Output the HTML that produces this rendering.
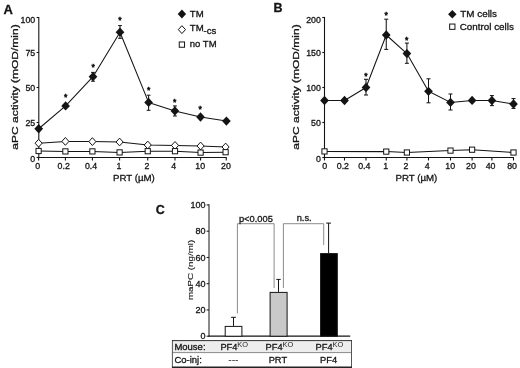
<!DOCTYPE html>
<html lang="en">
<head>
<meta charset="utf-8">
<title>Figure</title>
<style>
html,body{margin:0;padding:0;background:#fff;}
body{width:520px;height:368px;overflow:hidden;}
svg{display:block;font-family:'Liberation Sans', Arial, Helvetica, sans-serif;}
</style>
</head>
<body>
<svg width="520" height="368" viewBox="0 0 520 368">
<rect x="0" y="0" width="520" height="368" fill="#ffffff"/>
<text x="3.40" y="13.60" font-size="13" text-anchor="start" font-weight="bold" fill="#141414" stroke="#141414" stroke-width="0.3" >A</text>
<line x1="38.80" y1="16.90" x2="38.80" y2="158.00" stroke="#141414" stroke-width="1.1" />
<line x1="38.30" y1="157.50" x2="226.75" y2="157.50" stroke="#141414" stroke-width="1.1" />
<line x1="38.60" y1="157.50" x2="38.60" y2="160.50" stroke="#141414" stroke-width="1.1" />
<text x="37.60" y="168.50" font-size="8.8" text-anchor="middle" font-weight="normal" fill="#141414" stroke="#141414" stroke-width="0.3" >0</text>
<line x1="65.40" y1="157.50" x2="65.40" y2="160.50" stroke="#141414" stroke-width="1.1" />
<text x="63.70" y="168.50" font-size="8.8" text-anchor="middle" font-weight="normal" fill="#141414" stroke="#141414" stroke-width="0.3" >0.2</text>
<line x1="92.40" y1="157.50" x2="92.40" y2="160.50" stroke="#141414" stroke-width="1.1" />
<text x="91.10" y="168.50" font-size="8.8" text-anchor="middle" font-weight="normal" fill="#141414" stroke="#141414" stroke-width="0.3" >0.4</text>
<line x1="119.60" y1="157.50" x2="119.60" y2="160.50" stroke="#141414" stroke-width="1.1" />
<text x="118.90" y="168.50" font-size="8.8" text-anchor="middle" font-weight="normal" fill="#141414" stroke="#141414" stroke-width="0.3" >1</text>
<line x1="147.75" y1="157.50" x2="147.75" y2="160.50" stroke="#141414" stroke-width="1.1" />
<text x="146.90" y="168.50" font-size="8.8" text-anchor="middle" font-weight="normal" fill="#141414" stroke="#141414" stroke-width="0.3" >2</text>
<line x1="175.00" y1="157.50" x2="175.00" y2="160.50" stroke="#141414" stroke-width="1.1" />
<text x="173.60" y="168.50" font-size="8.8" text-anchor="middle" font-weight="normal" fill="#141414" stroke="#141414" stroke-width="0.3" >4</text>
<line x1="200.60" y1="157.50" x2="200.60" y2="160.50" stroke="#141414" stroke-width="1.1" />
<text x="200.20" y="168.50" font-size="8.8" text-anchor="middle" font-weight="normal" fill="#141414" stroke="#141414" stroke-width="0.3" >10</text>
<line x1="226.25" y1="157.50" x2="226.25" y2="160.50" stroke="#141414" stroke-width="1.1" />
<text x="226.00" y="168.50" font-size="8.8" text-anchor="middle" font-weight="normal" fill="#141414" stroke="#141414" stroke-width="0.3" >20</text>
<line x1="36.60" y1="157.50" x2="38.80" y2="157.50" stroke="#141414" stroke-width="1.1" />
<text x="35.20" y="161.60" font-size="8.8" text-anchor="end" font-weight="normal" fill="#141414" stroke="#141414" stroke-width="0.3" >0</text>
<line x1="36.60" y1="122.50" x2="38.80" y2="122.50" stroke="#141414" stroke-width="1.1" />
<text x="35.20" y="125.80" font-size="8.8" text-anchor="end" font-weight="normal" fill="#141414" stroke="#141414" stroke-width="0.3" >25</text>
<line x1="36.60" y1="87.50" x2="38.80" y2="87.50" stroke="#141414" stroke-width="1.1" />
<text x="35.20" y="90.80" font-size="8.8" text-anchor="end" font-weight="normal" fill="#141414" stroke="#141414" stroke-width="0.3" >50</text>
<line x1="36.60" y1="52.50" x2="38.80" y2="52.50" stroke="#141414" stroke-width="1.1" />
<text x="35.20" y="55.80" font-size="8.8" text-anchor="end" font-weight="normal" fill="#141414" stroke="#141414" stroke-width="0.3" >75</text>
<line x1="36.60" y1="17.50" x2="38.80" y2="17.50" stroke="#141414" stroke-width="1.1" />
<text x="35.20" y="22.60" font-size="8.8" text-anchor="end" font-weight="normal" fill="#141414" stroke="#141414" stroke-width="0.3" >100</text>
<text x="113.00" y="181.00" font-size="9.7" text-anchor="start" font-weight="normal" fill="#141414" stroke="#141414" stroke-width="0.3" >PRT (µM)</text>
<text transform="translate(18.40,87.00) rotate(-90) scale(1.305,1)" font-size="9.2" text-anchor="middle" fill="#141414" stroke="#141414" stroke-width="0.3">aPC activity (mOD/min)</text>
<polyline points="38.70,128.75 65.60,105.90 93.00,76.70 120.00,32.20 148.60,102.40 174.90,110.90 200.50,117.00 226.40,121.10" fill="none" stroke="#141414" stroke-width="1.05" stroke-linejoin="round"/>
<polyline points="38.60,143.20 65.40,141.40 92.40,141.60 119.60,142.00 147.75,145.00 175.00,145.40 200.60,146.00 225.60,147.00" fill="none" stroke="#141414" stroke-width="1.05" stroke-linejoin="round"/>
<polyline points="38.60,151.00 65.40,151.40 92.40,151.40 119.60,152.40 147.75,151.20 175.00,151.20 200.60,152.60 225.60,152.20" fill="none" stroke="#141414" stroke-width="1.05" stroke-linejoin="round"/>
<line x1="93.00" y1="72.40" x2="93.00" y2="81.20" stroke="#141414" stroke-width="1.05" />
<line x1="91.10" y1="72.40" x2="94.90" y2="72.40" stroke="#141414" stroke-width="1.05" />
<line x1="91.10" y1="81.20" x2="94.90" y2="81.20" stroke="#141414" stroke-width="1.05" />
<line x1="120.00" y1="25.60" x2="120.00" y2="38.30" stroke="#141414" stroke-width="1.05" />
<line x1="118.10" y1="25.60" x2="121.90" y2="25.60" stroke="#141414" stroke-width="1.05" />
<line x1="118.10" y1="38.30" x2="121.90" y2="38.30" stroke="#141414" stroke-width="1.05" />
<line x1="148.60" y1="95.20" x2="148.60" y2="110.30" stroke="#141414" stroke-width="1.05" />
<line x1="146.70" y1="95.20" x2="150.50" y2="95.20" stroke="#141414" stroke-width="1.05" />
<line x1="146.70" y1="110.30" x2="150.50" y2="110.30" stroke="#141414" stroke-width="1.05" />
<line x1="174.90" y1="105.90" x2="174.90" y2="116.00" stroke="#141414" stroke-width="1.05" />
<line x1="173.00" y1="105.90" x2="176.80" y2="105.90" stroke="#141414" stroke-width="1.05" />
<line x1="173.00" y1="116.00" x2="176.80" y2="116.00" stroke="#141414" stroke-width="1.05" />
<polygon points="35.05,143.20 38.60,139.30 42.15,143.20 38.60,147.09" fill="#fff" stroke="#141414" stroke-width="1.0"/>
<polygon points="61.86,141.40 65.40,137.50 68.95,141.40 65.40,145.30" fill="#fff" stroke="#141414" stroke-width="1.0"/>
<polygon points="88.86,141.60 92.40,137.70 95.95,141.60 92.40,145.50" fill="#fff" stroke="#141414" stroke-width="1.0"/>
<polygon points="116.05,142.00 119.60,138.10 123.14,142.00 119.60,145.90" fill="#fff" stroke="#141414" stroke-width="1.0"/>
<polygon points="144.21,145.00 147.75,141.10 151.29,145.00 147.75,148.90" fill="#fff" stroke="#141414" stroke-width="1.0"/>
<polygon points="171.46,145.40 175.00,141.50 178.54,145.40 175.00,149.30" fill="#fff" stroke="#141414" stroke-width="1.0"/>
<polygon points="197.06,146.00 200.60,142.10 204.14,146.00 200.60,149.90" fill="#fff" stroke="#141414" stroke-width="1.0"/>
<polygon points="222.06,147.00 225.60,143.10 229.14,147.00 225.60,150.90" fill="#fff" stroke="#141414" stroke-width="1.0"/>
<rect x="36.00" y="148.40" width="5.2" height="5.2" fill="#fff" stroke="#141414" stroke-width="1.0"/>
<rect x="62.80" y="148.80" width="5.2" height="5.2" fill="#fff" stroke="#141414" stroke-width="1.0"/>
<rect x="89.80" y="148.80" width="5.2" height="5.2" fill="#fff" stroke="#141414" stroke-width="1.0"/>
<rect x="117.00" y="149.80" width="5.2" height="5.2" fill="#fff" stroke="#141414" stroke-width="1.0"/>
<rect x="145.15" y="148.60" width="5.2" height="5.2" fill="#fff" stroke="#141414" stroke-width="1.0"/>
<rect x="172.40" y="148.60" width="5.2" height="5.2" fill="#fff" stroke="#141414" stroke-width="1.0"/>
<rect x="198.00" y="150.00" width="5.2" height="5.2" fill="#fff" stroke="#141414" stroke-width="1.0"/>
<rect x="223.00" y="149.60" width="5.2" height="5.2" fill="#fff" stroke="#141414" stroke-width="1.0"/>
<polygon points="34.35,128.75 38.70,124.10 43.05,128.75 38.70,133.40" fill="#141414" stroke="#141414" stroke-width="0"/>
<polygon points="61.25,105.90 65.60,101.25 69.95,105.90 65.60,110.55" fill="#141414" stroke="#141414" stroke-width="0"/>
<polygon points="88.65,76.70 93.00,72.05 97.35,76.70 93.00,81.35" fill="#141414" stroke="#141414" stroke-width="0"/>
<polygon points="115.65,32.20 120.00,27.55 124.35,32.20 120.00,36.85" fill="#141414" stroke="#141414" stroke-width="0"/>
<polygon points="144.25,102.40 148.60,97.75 152.95,102.40 148.60,107.05" fill="#141414" stroke="#141414" stroke-width="0"/>
<polygon points="170.55,110.90 174.90,106.25 179.25,110.90 174.90,115.55" fill="#141414" stroke="#141414" stroke-width="0"/>
<polygon points="196.15,117.00 200.50,112.35 204.85,117.00 200.50,121.65" fill="#141414" stroke="#141414" stroke-width="0"/>
<polygon points="222.05,121.10 226.40,116.45 230.75,121.10 226.40,125.75" fill="#141414" stroke="#141414" stroke-width="0"/>
<text x="65.60" y="100.39" font-size="8.6" text-anchor="middle" fill="#141414" stroke="#141414" stroke-width="0.55">*</text>
<text x="93.10" y="69.79" font-size="8.6" text-anchor="middle" fill="#141414" stroke="#141414" stroke-width="0.55">*</text>
<text x="120.00" y="23.09" font-size="8.6" text-anchor="middle" fill="#141414" stroke="#141414" stroke-width="0.55">*</text>
<text x="148.80" y="93.49" font-size="8.6" text-anchor="middle" fill="#141414" stroke="#141414" stroke-width="0.55">*</text>
<text x="174.80" y="105.19" font-size="8.6" text-anchor="middle" fill="#141414" stroke="#141414" stroke-width="0.55">*</text>
<text x="200.30" y="112.29" font-size="8.6" text-anchor="middle" fill="#141414" stroke="#141414" stroke-width="0.55">*</text>
<polygon points="177.70,14.00 181.90,9.45 186.10,14.00 181.90,18.55" fill="#141414" stroke="#141414" stroke-width="0"/>
<text x="189.80" y="17.10" font-size="9.6" text-anchor="start" font-weight="normal" fill="#141414" stroke="#141414" stroke-width="0.3" >TM</text>
<polygon points="178.31,29.60 181.90,25.66 185.50,29.60 181.90,33.55" fill="#fff" stroke="#141414" stroke-width="1.0"/>
<text x="189.80" y="31.30" font-size="9.6" text-anchor="start" font-weight="normal" fill="#141414" stroke="#141414" stroke-width="0.3" >TM</text>
<text x="203.50" y="34.30" font-size="9.6" text-anchor="start" font-weight="normal" fill="#141414" stroke="#141414" stroke-width="0.3" >-cs</text>
<rect x="179.25" y="41.95" width="5.3" height="5.3" fill="#fff" stroke="#141414" stroke-width="1.0"/>
<text x="189.80" y="47.20" font-size="9.5" text-anchor="start" font-weight="normal" fill="#141414" stroke="#141414" stroke-width="0.3" >no TM</text>
<text x="273.60" y="12.40" font-size="12.5" text-anchor="start" font-weight="bold" fill="#141414" stroke="#141414" stroke-width="0.3" >B</text>
<line x1="324.50" y1="16.90" x2="324.50" y2="158.00" stroke="#141414" stroke-width="1.1" />
<line x1="324.00" y1="157.50" x2="514.00" y2="157.50" stroke="#141414" stroke-width="1.1" />
<line x1="324.50" y1="157.50" x2="324.50" y2="160.50" stroke="#141414" stroke-width="1.1" />
<text x="324.70" y="169.40" font-size="8.8" text-anchor="middle" font-weight="normal" fill="#141414" stroke="#141414" stroke-width="0.3" >0</text>
<line x1="344.50" y1="157.50" x2="344.50" y2="160.50" stroke="#141414" stroke-width="1.1" />
<text x="342.90" y="169.40" font-size="8.8" text-anchor="middle" font-weight="normal" fill="#141414" stroke="#141414" stroke-width="0.3" >0.2</text>
<line x1="366.00" y1="157.50" x2="366.00" y2="160.50" stroke="#141414" stroke-width="1.1" />
<text x="364.30" y="169.40" font-size="8.8" text-anchor="middle" font-weight="normal" fill="#141414" stroke="#141414" stroke-width="0.3" >0.4</text>
<line x1="386.25" y1="157.50" x2="386.25" y2="160.50" stroke="#141414" stroke-width="1.1" />
<text x="385.70" y="169.40" font-size="8.8" text-anchor="middle" font-weight="normal" fill="#141414" stroke="#141414" stroke-width="0.3" >1</text>
<line x1="406.90" y1="157.50" x2="406.90" y2="160.50" stroke="#141414" stroke-width="1.1" />
<text x="406.00" y="169.40" font-size="8.8" text-anchor="middle" font-weight="normal" fill="#141414" stroke="#141414" stroke-width="0.3" >2</text>
<line x1="428.50" y1="157.50" x2="428.50" y2="160.50" stroke="#141414" stroke-width="1.1" />
<text x="427.30" y="169.40" font-size="8.8" text-anchor="middle" font-weight="normal" fill="#141414" stroke="#141414" stroke-width="0.3" >4</text>
<line x1="450.50" y1="157.50" x2="450.50" y2="160.50" stroke="#141414" stroke-width="1.1" />
<text x="450.20" y="169.40" font-size="8.8" text-anchor="middle" font-weight="normal" fill="#141414" stroke="#141414" stroke-width="0.3" >10</text>
<line x1="472.10" y1="157.50" x2="472.10" y2="160.50" stroke="#141414" stroke-width="1.1" />
<text x="471.00" y="169.40" font-size="8.8" text-anchor="middle" font-weight="normal" fill="#141414" stroke="#141414" stroke-width="0.3" >20</text>
<line x1="491.90" y1="157.50" x2="491.90" y2="160.50" stroke="#141414" stroke-width="1.1" />
<text x="490.60" y="169.40" font-size="8.8" text-anchor="middle" font-weight="normal" fill="#141414" stroke="#141414" stroke-width="0.3" >40</text>
<line x1="513.50" y1="157.50" x2="513.50" y2="160.50" stroke="#141414" stroke-width="1.1" />
<text x="512.10" y="169.40" font-size="8.8" text-anchor="middle" font-weight="normal" fill="#141414" stroke="#141414" stroke-width="0.3" >80</text>
<line x1="322.30" y1="157.50" x2="324.50" y2="157.50" stroke="#141414" stroke-width="1.1" />
<text x="320.90" y="161.60" font-size="8.8" text-anchor="end" font-weight="normal" fill="#141414" stroke="#141414" stroke-width="0.3" >0</text>
<line x1="322.30" y1="122.50" x2="324.50" y2="122.50" stroke="#141414" stroke-width="1.1" />
<text x="320.90" y="125.80" font-size="8.8" text-anchor="end" font-weight="normal" fill="#141414" stroke="#141414" stroke-width="0.3" >50</text>
<line x1="322.30" y1="87.50" x2="324.50" y2="87.50" stroke="#141414" stroke-width="1.1" />
<text x="320.90" y="90.80" font-size="8.8" text-anchor="end" font-weight="normal" fill="#141414" stroke="#141414" stroke-width="0.3" >100</text>
<line x1="322.30" y1="52.50" x2="324.50" y2="52.50" stroke="#141414" stroke-width="1.1" />
<text x="320.90" y="55.80" font-size="8.8" text-anchor="end" font-weight="normal" fill="#141414" stroke="#141414" stroke-width="0.3" >150</text>
<line x1="322.30" y1="17.50" x2="324.50" y2="17.50" stroke="#141414" stroke-width="1.1" />
<text x="320.90" y="22.60" font-size="8.8" text-anchor="end" font-weight="normal" fill="#141414" stroke="#141414" stroke-width="0.3" >200</text>
<text x="395.50" y="181.20" font-size="9.7" text-anchor="start" font-weight="normal" fill="#141414" stroke="#141414" stroke-width="0.3" >PRT (µM)</text>
<text transform="translate(298.90,87.00) rotate(-90) scale(1.305,1)" font-size="9.2" text-anchor="middle" fill="#141414" stroke="#141414" stroke-width="0.3">aPC activity (mOD/min)</text>
<polyline points="324.50,100.50 344.50,100.50 366.00,87.50 386.25,35.00 406.90,53.60 428.50,91.30 450.50,102.40 472.10,100.40 491.90,100.60 513.50,104.00" fill="none" stroke="#141414" stroke-width="1.05" stroke-linejoin="round"/>
<polyline points="324.50,151.40 386.25,151.60 406.90,152.50 450.50,150.60 472.10,149.70 513.50,152.50" fill="none" stroke="#141414" stroke-width="1.05" stroke-linejoin="round"/>
<line x1="366.00" y1="79.30" x2="366.00" y2="95.00" stroke="#141414" stroke-width="1.05" />
<line x1="364.00" y1="79.30" x2="368.00" y2="79.30" stroke="#141414" stroke-width="1.05" />
<line x1="364.00" y1="95.00" x2="368.00" y2="95.00" stroke="#141414" stroke-width="1.05" />
<line x1="386.25" y1="19.20" x2="386.25" y2="49.40" stroke="#141414" stroke-width="1.05" />
<line x1="384.25" y1="19.20" x2="388.25" y2="19.20" stroke="#141414" stroke-width="1.05" />
<line x1="384.25" y1="49.40" x2="388.25" y2="49.40" stroke="#141414" stroke-width="1.05" />
<line x1="406.90" y1="43.10" x2="406.90" y2="63.30" stroke="#141414" stroke-width="1.05" />
<line x1="404.90" y1="43.10" x2="408.90" y2="43.10" stroke="#141414" stroke-width="1.05" />
<line x1="404.90" y1="63.30" x2="408.90" y2="63.30" stroke="#141414" stroke-width="1.05" />
<line x1="428.50" y1="78.80" x2="428.50" y2="102.80" stroke="#141414" stroke-width="1.05" />
<line x1="426.50" y1="78.80" x2="430.50" y2="78.80" stroke="#141414" stroke-width="1.05" />
<line x1="426.50" y1="102.80" x2="430.50" y2="102.80" stroke="#141414" stroke-width="1.05" />
<line x1="450.50" y1="94.00" x2="450.50" y2="110.00" stroke="#141414" stroke-width="1.05" />
<line x1="448.50" y1="94.00" x2="452.50" y2="94.00" stroke="#141414" stroke-width="1.05" />
<line x1="448.50" y1="110.00" x2="452.50" y2="110.00" stroke="#141414" stroke-width="1.05" />
<line x1="491.90" y1="95.60" x2="491.90" y2="105.60" stroke="#141414" stroke-width="1.05" />
<line x1="489.90" y1="95.60" x2="493.90" y2="95.60" stroke="#141414" stroke-width="1.05" />
<line x1="489.90" y1="105.60" x2="493.90" y2="105.60" stroke="#141414" stroke-width="1.05" />
<line x1="513.50" y1="98.60" x2="513.50" y2="108.40" stroke="#141414" stroke-width="1.05" />
<line x1="511.50" y1="98.60" x2="515.50" y2="98.60" stroke="#141414" stroke-width="1.05" />
<line x1="511.50" y1="108.40" x2="515.50" y2="108.40" stroke="#141414" stroke-width="1.05" />
<rect x="321.90" y="148.80" width="5.2" height="5.2" fill="#fff" stroke="#141414" stroke-width="1.0"/>
<rect x="383.65" y="149.00" width="5.2" height="5.2" fill="#fff" stroke="#141414" stroke-width="1.0"/>
<rect x="404.30" y="149.90" width="5.2" height="5.2" fill="#fff" stroke="#141414" stroke-width="1.0"/>
<rect x="447.90" y="148.00" width="5.2" height="5.2" fill="#fff" stroke="#141414" stroke-width="1.0"/>
<rect x="469.50" y="147.10" width="5.2" height="5.2" fill="#fff" stroke="#141414" stroke-width="1.0"/>
<rect x="510.90" y="149.90" width="5.2" height="5.2" fill="#fff" stroke="#141414" stroke-width="1.0"/>
<polygon points="320.15,100.50 324.50,95.85 328.85,100.50 324.50,105.15" fill="#141414" stroke="#141414" stroke-width="0"/>
<polygon points="340.15,100.50 344.50,95.85 348.85,100.50 344.50,105.15" fill="#141414" stroke="#141414" stroke-width="0"/>
<polygon points="361.65,87.50 366.00,82.85 370.35,87.50 366.00,92.15" fill="#141414" stroke="#141414" stroke-width="0"/>
<polygon points="381.90,35.00 386.25,30.35 390.60,35.00 386.25,39.65" fill="#141414" stroke="#141414" stroke-width="0"/>
<polygon points="402.55,53.60 406.90,48.95 411.25,53.60 406.90,58.25" fill="#141414" stroke="#141414" stroke-width="0"/>
<polygon points="424.15,91.30 428.50,86.65 432.85,91.30 428.50,95.95" fill="#141414" stroke="#141414" stroke-width="0"/>
<polygon points="446.15,102.40 450.50,97.75 454.85,102.40 450.50,107.05" fill="#141414" stroke="#141414" stroke-width="0"/>
<polygon points="467.75,100.40 472.10,95.75 476.45,100.40 472.10,105.05" fill="#141414" stroke="#141414" stroke-width="0"/>
<polygon points="487.55,100.60 491.90,95.95 496.25,100.60 491.90,105.25" fill="#141414" stroke="#141414" stroke-width="0"/>
<polygon points="509.15,104.00 513.50,99.35 517.85,104.00 513.50,108.65" fill="#141414" stroke="#141414" stroke-width="0"/>
<text x="366.00" y="78.89" font-size="8.6" text-anchor="middle" fill="#141414" stroke="#141414" stroke-width="0.55">*</text>
<text x="386.30" y="18.19" font-size="8.6" text-anchor="middle" fill="#141414" stroke="#141414" stroke-width="0.55">*</text>
<text x="406.80" y="42.59" font-size="8.6" text-anchor="middle" fill="#141414" stroke="#141414" stroke-width="0.55">*</text>
<polygon points="448.05,14.20 452.30,9.90 456.55,14.20 452.30,18.50" fill="#141414" stroke="#141414" stroke-width="0"/>
<text x="460.30" y="17.40" font-size="9.85" text-anchor="start" font-weight="normal" fill="#141414" stroke="#141414" stroke-width="0.3" >TM cells</text>
<rect x="449.65" y="24.05" width="5.3" height="5.3" fill="#fff" stroke="#141414" stroke-width="1.0"/>
<text x="459.70" y="29.60" font-size="9.85" text-anchor="start" font-weight="normal" fill="#141414" stroke="#141414" stroke-width="0.3" >Control cells</text>
<text x="155.80" y="214.30" font-size="12.5" text-anchor="start" font-weight="bold" fill="#141414" stroke="#141414" stroke-width="0.3" >C</text>
<line x1="209.00" y1="204.30" x2="209.00" y2="336.70" stroke="#141414" stroke-width="1.0" />
<line x1="208.50" y1="336.20" x2="350.20" y2="336.20" stroke="#141414" stroke-width="1.2" />
<line x1="206.60" y1="336.20" x2="209.00" y2="336.20" stroke="#141414" stroke-width="1.0" />
<text x="205.60" y="339.30" font-size="9.0" text-anchor="end" font-weight="normal" fill="#141414" stroke="#141414" stroke-width="0.3" >0</text>
<line x1="206.60" y1="309.95" x2="209.00" y2="309.95" stroke="#141414" stroke-width="1.0" />
<text x="205.60" y="313.05" font-size="9.0" text-anchor="end" font-weight="normal" fill="#141414" stroke="#141414" stroke-width="0.3" >20</text>
<line x1="206.60" y1="283.70" x2="209.00" y2="283.70" stroke="#141414" stroke-width="1.0" />
<text x="205.60" y="286.80" font-size="9.0" text-anchor="end" font-weight="normal" fill="#141414" stroke="#141414" stroke-width="0.3" >40</text>
<line x1="206.60" y1="257.45" x2="209.00" y2="257.45" stroke="#141414" stroke-width="1.0" />
<text x="205.60" y="260.55" font-size="9.0" text-anchor="end" font-weight="normal" fill="#141414" stroke="#141414" stroke-width="0.3" >60</text>
<line x1="206.60" y1="231.20" x2="209.00" y2="231.20" stroke="#141414" stroke-width="1.0" />
<text x="205.60" y="234.30" font-size="9.0" text-anchor="end" font-weight="normal" fill="#141414" stroke="#141414" stroke-width="0.3" >80</text>
<line x1="206.60" y1="204.95" x2="209.00" y2="204.95" stroke="#141414" stroke-width="1.0" />
<text x="205.60" y="208.05" font-size="9.0" text-anchor="end" font-weight="normal" fill="#141414" stroke="#141414" stroke-width="0.3" >100</text>
<text transform="translate(193.20,269.90) rotate(-90) scale(1.36,1)" font-size="7.2" text-anchor="middle" fill="#141414" stroke="#141414" stroke-width="0.12">maPC (ng/ml)</text>
<polyline points="237.40,313.50 237.40,223.70 274.10,223.70 274.10,288.00" fill="none" stroke="#5a5a5a" stroke-width="0.7" stroke-linejoin="round"/>
<polyline points="283.40,288.00 283.40,223.70 323.70,223.70 323.70,245.00" fill="none" stroke="#5a5a5a" stroke-width="0.7" stroke-linejoin="round"/>
<text x="255.90" y="221.70" font-size="9.3" text-anchor="middle" font-weight="normal" fill="#141414" stroke="#141414" stroke-width="0.3" >p&lt;0.005</text>
<text x="304.20" y="221.00" font-size="9.3" text-anchor="middle" font-weight="normal" fill="#141414" stroke="#141414" stroke-width="0.3" >n.s.</text>
<line x1="233.50" y1="317.30" x2="233.50" y2="325.90" stroke="#141414" stroke-width="1.0" />
<line x1="231.10" y1="317.30" x2="235.90" y2="317.30" stroke="#141414" stroke-width="1.0" />
<rect x="225.20" y="326.40" width="16.70" height="9.80" fill="#fff" stroke="#141414" stroke-width="1"/>
<line x1="278.50" y1="279.40" x2="278.50" y2="291.90" stroke="#141414" stroke-width="1.0" />
<line x1="276.30" y1="279.40" x2="280.70" y2="279.40" stroke="#141414" stroke-width="1.0" />
<rect x="270.10" y="292.40" width="17.00" height="43.80" fill="#c9c9c9" stroke="#141414" stroke-width="1"/>
<line x1="328.60" y1="223.10" x2="328.60" y2="253.10" stroke="#141414" stroke-width="1.0" />
<line x1="326.20" y1="223.10" x2="331.00" y2="223.10" stroke="#141414" stroke-width="1.0" />
<rect x="320.60" y="253.60" width="16.70" height="82.60" fill="#000" stroke="#141414" stroke-width="1"/>
<rect x="172" y="340" width="180" height="13" fill="#ededed"/>
<line x1="172.00" y1="352.60" x2="352.00" y2="352.60" stroke="#8a8a8a" stroke-width="1" />
<line x1="172.40" y1="340.00" x2="172.40" y2="368.00" stroke="#555" stroke-width="1" />
<line x1="351.50" y1="340.00" x2="351.50" y2="368.00" stroke="#555" stroke-width="1" />
<line x1="172.00" y1="340.60" x2="352.00" y2="340.60" stroke="#333" stroke-width="1" />
<line x1="172.00" y1="367.20" x2="352.00" y2="367.20" stroke="#222" stroke-width="1.6" />
<text x="174.40" y="349.90" font-size="9.5" text-anchor="start" font-weight="normal" fill="#141414" stroke="#141414" stroke-width="0.3" >Mouse:</text>
<text x="174.40" y="363.30" font-size="9.5" text-anchor="start" font-weight="normal" fill="#141414" stroke="#141414" stroke-width="0.3" >Co-inj:</text>
<text x="220.40" y="349.90" font-size="9.3" text-anchor="start" font-weight="normal" fill="#141414" stroke="#141414" stroke-width="0.3" >PF4</text>
<text x="237.30" y="347.0" font-size="7.4" fill="#222">KO</text>
<text x="265.60" y="349.90" font-size="9.3" text-anchor="start" font-weight="normal" fill="#141414" stroke="#141414" stroke-width="0.3" >PF4</text>
<text x="282.50" y="347.0" font-size="7.4" fill="#222">KO</text>
<text x="315.60" y="349.90" font-size="9.3" text-anchor="start" font-weight="normal" fill="#141414" stroke="#141414" stroke-width="0.3" >PF4</text>
<text x="332.50" y="347.0" font-size="7.4" fill="#222">KO</text>
<text x="233.60" y="363.00" font-size="9.0" text-anchor="middle" font-weight="normal" fill="#444" stroke="#444" stroke-width="0.3" letter-spacing="0.4">---</text>
<text x="277.90" y="363.00" font-size="9.3" text-anchor="middle" font-weight="normal" fill="#141414" stroke="#141414" stroke-width="0.3" >PRT</text>
<text x="328.60" y="363.00" font-size="9.3" text-anchor="middle" font-weight="normal" fill="#141414" stroke="#141414" stroke-width="0.3" >PF4</text>
</svg>
</body>
</html>
